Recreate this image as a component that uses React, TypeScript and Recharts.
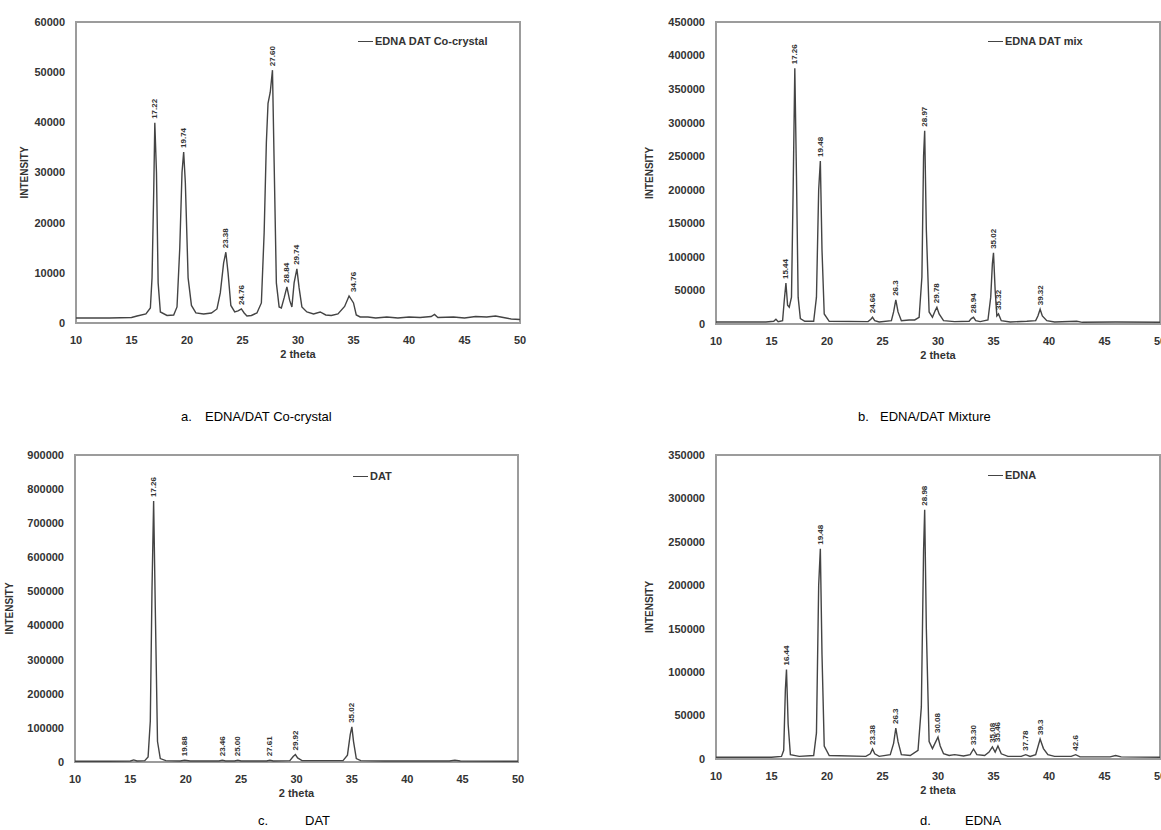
import React from 'react';
import { LineChart, Line, XAxis, YAxis, Legend, ReferenceArea, LabelList, Label } from 'recharts';

const FONT = '"Liberation Sans", Arial, sans-serif';

// shared x-axis ticks (2 theta)
const xTicks = [10, 15, 20, 25, 30, 35, 40, 45, 50];

// ---------- a. EDNA/DAT Co-crystal ----------
const coX = [10, 13, 15, 15.5, 16.3, 16.7, 16.85, 17.0, 17.1, 17.25, 17.4, 17.6, 18.2, 18.8, 19.1, 19.35, 19.55, 19.7, 19.85, 20.1, 20.4, 20.8, 21.5, 22.2, 22.7, 23.0, 23.3, 23.5, 23.7, 23.95, 24.3, 24.6, 24.9, 25.15, 25.4, 25.8, 26.3, 26.7, 26.95, 27.15, 27.3, 27.5, 27.7, 27.85, 28.05, 28.3, 28.5, 28.75, 29.0, 29.25, 29.45, 29.65, 29.9, 30.1, 30.35, 30.8, 31.4, 32.0, 32.5, 33.0, 33.6, 34.2, 34.6, 35.0, 35.25, 35.6, 36.3, 37.0, 38.0, 39.0, 40.0, 41.0, 42.0, 42.3, 42.6, 44.0, 45.0, 46.0, 47.0, 47.8, 48.5, 49.2, 50];
const coY = [1000, 1000, 1100, 1400, 1800, 3000, 9000, 26000, 39900, 30000, 8000, 2200, 1500, 1600, 3200, 15000, 30000, 34100, 28000, 9000, 3500, 2000, 1800, 2000, 2800, 6000, 12000, 14100, 10000, 3500, 2200, 2400, 2800, 2000, 1400, 1500, 2000, 4000, 18000, 36000, 43800, 46000, 50400, 32000, 8000, 3200, 3000, 5000, 7200, 4500, 3200, 8000, 10800, 7000, 3200, 2200, 1800, 2200, 1600, 1500, 1800, 3300, 5400, 4000, 1600, 1200, 1200, 1000, 1200, 1000, 1200, 1100, 1300, 1700, 1100, 1200, 1000, 1300, 1200, 1400, 1100, 800, 700];
const coPeakX = [17.1, 19.7, 23.5, 24.9, 27.7, 29.0, 29.9, 35.0];
const coPeakY = [39900, 34100, 14100, 2800, 50400, 7200, 10800, 5400];
const coPeakLabels = ['17.22', '19.74', '23.38', '24.76', '27.60', '28.84', '29.74', '34.76'];
const coYTicks = [0, 10000, 20000, 30000, 40000, 50000, 60000];

// ---------- b. EDNA/DAT Mixture ----------
const mixX = [10, 14.5, 15.2, 15.4, 15.6, 16.0, 16.15, 16.3, 16.45, 16.6, 16.8, 16.95, 17.1, 17.25, 17.4, 17.6, 18.0, 18.8, 19.05, 19.25, 19.4, 19.55, 19.75, 20.2, 23.7, 23.95, 24.1, 24.3, 24.7, 25.8, 26.0, 26.2, 26.4, 26.7, 27.4, 27.9, 28.3, 28.55, 28.7, 28.8, 28.95, 29.2, 29.5, 29.75, 29.9, 30.1, 30.5, 31.5, 32.8, 33.0, 33.2, 33.4, 33.8, 34.5, 34.75, 34.9, 35.0, 35.15, 35.3, 35.45, 35.7, 36.5, 38.0, 38.8, 39.0, 39.2, 39.4, 39.8, 40.5, 42.5, 43.0, 46.0, 50];
const mixY = [3000, 3000, 4000, 7000, 3500, 5000, 35000, 61000, 28000, 25000, 40000, 200000, 381000, 220000, 40000, 8000, 4000, 4000, 40000, 200000, 243000, 110000, 15000, 4000, 3500, 7000, 10000, 5000, 3000, 5000, 18000, 36000, 18000, 5000, 6000, 6000, 10000, 70000, 250000, 288000, 140000, 18000, 10000, 20000, 25000, 15000, 5000, 3500, 4000, 8000, 10000, 5000, 3500, 6000, 40000, 90000, 106000, 50000, 12000, 15000, 5000, 3000, 4000, 5000, 12000, 22000, 12000, 5000, 3000, 4000, 2500, 3000, 2500];
const mixPeakX = [16.3, 17.1, 19.4, 24.1, 26.2, 28.8, 29.9, 33.2, 35.0, 35.45, 39.2];
const mixPeakY = [61000, 381000, 243000, 10000, 36000, 288000, 25000, 10000, 106000, 15000, 22000];
const mixPeakLabels = ['15.44', '17.26', '19.48', '24.66', '26.3', '28.97', '29.78', '28.94', '35.02', '35.32', '39.32'];
const mixYTicks = [0, 50000, 100000, 150000, 200000, 250000, 300000, 350000, 400000, 450000];

// ---------- c. DAT ----------
const datX = [10, 13, 15, 15.3, 15.6, 16.3, 16.6, 16.8, 16.95, 17.1, 17.25, 17.45, 17.7, 18.2, 19.5, 19.9, 20.4, 23.0, 23.3, 23.6, 24.4, 24.7, 25.0, 27.3, 27.6, 27.9, 29.4, 29.7, 29.9, 30.1, 30.5, 34.2, 34.6, 34.85, 35.0, 35.15, 35.4, 35.8, 38.0, 43.8, 44.3, 44.8, 50];
const datY = [2000, 2000, 3000, 6000, 3000, 4000, 15000, 120000, 500000, 765000, 450000, 60000, 10000, 4000, 3000, 5000, 3000, 3000, 5000, 3000, 3000, 5000, 3000, 3000, 5000, 3000, 4000, 16000, 22000, 12000, 4000, 4000, 20000, 80000, 103000, 60000, 10000, 4000, 3000, 3000, 5000, 3000, 2000];
const datPeakX = [17.1, 19.9, 23.3, 24.7, 27.6, 29.9, 35.0];
const datPeakY = [765000, 5000, 5000, 5000, 5000, 22000, 103000];
const datPeakLabels = ['17.26', '19.88', '23.46', '25.00', '27.61', '29.92', '35.02'];
const datYTicks = [0, 100000, 200000, 300000, 400000, 500000, 600000, 700000, 800000, 900000];

// ---------- d. EDNA ----------
const ednaX = [10, 15, 15.9, 16.1, 16.25, 16.35, 16.5, 16.7, 17.5, 18.8, 19.05, 19.25, 19.4, 19.55, 19.75, 20.2, 23.5, 23.9, 24.1, 24.3, 24.7, 25.7, 26.0, 26.2, 26.4, 26.7, 27.5, 28.2, 28.5, 28.7, 28.8, 28.95, 29.2, 29.5, 29.8, 30.0, 30.2, 30.5, 31.0, 31.5, 32.3, 32.9, 33.2, 33.5, 34.2, 34.6, 34.9, 35.15, 35.4, 35.7, 36.3, 37.5, 37.9, 38.3, 38.8, 39.2, 39.5, 39.9, 40.5, 42.0, 42.4, 42.8, 45.5, 46.0, 46.5, 50];
const ednaY = [2000, 2000, 3000, 10000, 80000, 103000, 40000, 5000, 3000, 4000, 30000, 200000, 242000, 120000, 15000, 4000, 3000, 6000, 11500, 6000, 3000, 5000, 18000, 35700, 20000, 5000, 4000, 10000, 60000, 240000, 287000, 150000, 20000, 12000, 20000, 25300, 15000, 6000, 4000, 5000, 3500, 5000, 11500, 5000, 4000, 8000, 14000, 8000, 15000, 6000, 3000, 3000, 5000, 3000, 5000, 23000, 12000, 5000, 3000, 3000, 5000, 2500, 2500, 4000, 2500, 2000];
const ednaPeakX = [16.35, 19.4, 24.1, 26.2, 28.8, 30.0, 33.2, 34.9, 35.4, 37.9, 39.2, 42.4];
const ednaPeakY = [103000, 242000, 11500, 35700, 287000, 25300, 11500, 14000, 15000, 5000, 23000, 5000];
const ednaPeakLabels = ['16.44', '19.48', '23.38', '26.3', '28.98', '30.08', '33.30', '35.08', '35.46', '37.78', '39.3', '42.6'];
const ednaYTicks = [0, 50000, 100000, 150000, 200000, 250000, 300000, 350000];

type Pt = { x: number; y: number };
type Pk = { x: number; y: number; label: string };

const zipPts = (xs: number[], ys: number[]): Pt[] => xs.map((x, i) => ({ x, y: ys[i] }));
const zipPeaks = (xs: number[], ys: number[], ls: string[]): Pk[] =>
  xs.map((x, i) => ({ x, y: ys[i], label: ls[i] }));

const PeakLabel = (props: any) => {
  const vb = props.viewBox || {};
  const x = props.x ?? vb.x;
  const y = props.y ?? vb.y;
  if (x == null || y == null || props.value == null) return null;
  const ty = y - 4;
  return (
    <text
      x={x}
      y={ty}
      transform={`rotate(-90 ${x} ${ty})`}
      textAnchor="start"
      dominantBaseline="central"
      fontSize={8}
      fontWeight="bold"
      fill="#333"
      fontFamily={FONT}
    >
      {props.value}
    </text>
  );
};

type PanelProps = {
  left: number;
  top: number;
  width: number;
  height: number;
  margin: { top: number; right: number; left: number; bottom: number };
  yAxisWidth: number;
  pts: Pt[];
  peaks: Pk[];
  yMax: number;
  yTicks: number[];
  name: string;
  legendLeft: number;
  legendTop: number;
  yTitleX: number;
};

const Panel = (p: PanelProps) => {
  const tickStyle = { fontSize: 11, fontWeight: 'bold', fill: '#333', fontFamily: FONT } as any;
  return (
    <div style={{ position: 'absolute', left: p.left, top: p.top, width: p.width, height: p.height }}>
      <LineChart width={p.width} height={p.height} margin={p.margin}>
        <XAxis
          type="number"
          dataKey="x"
          domain={[10, 50]}
          ticks={xTicks}
          interval={0}
          allowDataOverflow
          tickLine={false}
          axisLine={false}
          tickMargin={7}
          height={40}
          tick={tickStyle}
        >
          <Label
            content={(lp: any) => {
              const vb = lp.viewBox;
              return (
                <text
                  x={vb.x + vb.width / 2}
                  y={vb.y + 31}
                  textAnchor="middle"
                  dominantBaseline="central"
                  fontSize={11}
                  fontWeight="bold"
                  fill="#333"
                  fontFamily={FONT}
                >
                  2 theta
                </text>
              );
            }}
          />
        </XAxis>
        <YAxis
          type="number"
          domain={[0, p.yMax]}
          ticks={p.yTicks}
          interval={0}
          tickLine={false}
          axisLine={false}
          tickMargin={5}
          width={p.yAxisWidth}
          tick={tickStyle}
        >
          <Label
            content={(lp: any) => {
              const vb = lp.viewBox;
              const cy = vb.y + vb.height / 2;
              return (
                <text
                  x={p.yTitleX}
                  y={cy}
                  transform={`rotate(-90 ${p.yTitleX} ${cy})`}
                  textAnchor="middle"
                  dominantBaseline="central"
                  fontSize={10}
                  fontWeight="bold"
                  fill="#333"
                  fontFamily={FONT}
                >
                  INTENSITY
                </text>
              );
            }}
          />
        </YAxis>
        <ReferenceArea
          x1={10}
          x2={50}
          y1={0}
          y2={p.yMax}
          fill="#ffffff"
          fillOpacity={0}
          stroke="#9c9c9c"
          strokeWidth={2}
          ifOverflow="visible"
        />
        <Legend
          layout="horizontal"
          verticalAlign="middle"
          align="center"
          wrapperStyle={{ left: p.legendLeft, top: p.legendTop, width: 'auto' }}
          content={() => (
            <div
              style={{
                display: 'flex',
                alignItems: 'center',
                fontFamily: FONT,
                fontSize: 11,
                fontWeight: 'bold',
                color: '#333',
                whiteSpace: 'nowrap',
              }}
            >
              <span style={{ display: 'inline-block', width: 15, borderTop: '1.5px solid #444', marginRight: 2 }} />
              {p.name}
            </div>
          )}
        />
        <Line
          type="linear"
          data={p.pts}
          dataKey="y"
          name={p.name}
          stroke="#444"
          strokeWidth={1.4}
          dot={false}
          activeDot={false}
          isAnimationActive={false}
        />
        <Line
          type="linear"
          data={p.peaks}
          dataKey="y"
          stroke="none"
          dot={false}
          activeDot={false}
          legendType="none"
          isAnimationActive={false}
        >
          <LabelList dataKey="label" content={PeakLabel} />
        </Line>
      </LineChart>
    </div>
  );
};

const captionStyle: React.CSSProperties = {
  position: 'absolute',
  fontFamily: FONT,
  fontSize: 13,
  color: '#000',
  whiteSpace: 'nowrap',
  lineHeight: '14px',
};

const Caption = ({ x1, x2, top, letter, text }: { x1: number; x2: number; top: number; letter: string; text: string }) => (
  <>
    <div style={{ ...captionStyle, left: x1, top }}>{letter}</div>
    <div style={{ ...captionStyle, left: x2, top }}>{text}</div>
  </>
);

export default function App() {
  return (
    <div style={{ position: 'absolute', left: 0, top: 0, width: 1161, height: 830, background: '#fff', overflow: 'hidden' }}>
      <Panel
        left={0}
        top={0}
        width={540}
        height={380}
        margin={{ top: 22, right: 20, left: 0, bottom: 17 }}
        yAxisWidth={76}
        pts={zipPts(coX, coY)}
        peaks={zipPeaks(coPeakX, coPeakY, coPeakLabels)}
        yMax={60000}
        yTicks={coYTicks}
        name="EDNA DAT Co-crystal"
        legendLeft={358}
        legendTop={35}
        yTitleX={24}
      />
      <Panel
        left={640}
        top={0}
        width={521}
        height={380}
        margin={{ top: 22, right: 1, left: 0, bottom: 16 }}
        yAxisWidth={76}
        pts={zipPts(mixX, mixY)}
        peaks={zipPeaks(mixPeakX, mixPeakY, mixPeakLabels)}
        yMax={450000}
        yTicks={mixYTicks}
        name="EDNA DAT mix"
        legendLeft={348}
        legendTop={35}
        yTitleX={9}
      />
      <Panel
        left={0}
        top={430}
        width={540}
        height={400}
        margin={{ top: 25, right: 22, left: 0, bottom: 28 }}
        yAxisWidth={75}
        pts={zipPts(datX, datY)}
        peaks={zipPeaks(datPeakX, datPeakY, datPeakLabels)}
        yMax={900000}
        yTicks={datYTicks}
        name="DAT"
        legendLeft={353}
        legendTop={40}
        yTitleX={9}
      />
      <Panel
        left={640}
        top={430}
        width={521}
        height={400}
        margin={{ top: 25, right: 1, left: 0, bottom: 31 }}
        yAxisWidth={76}
        pts={zipPts(ednaX, ednaY)}
        peaks={zipPeaks(ednaPeakX, ednaPeakY, ednaPeakLabels)}
        yMax={350000}
        yTicks={ednaYTicks}
        name="EDNA"
        legendLeft={348}
        legendTop={39}
        yTitleX={9}
      />
      <Caption x1={181} x2={205} top={410} letter="a." text="EDNA/DAT Co-crystal" />
      <Caption x1={858} x2={880} top={410} letter="b." text="EDNA/DAT Mixture" />
      <Caption x1={258} x2={305} top={814} letter="c." text="DAT" />
      <Caption x1={920} x2={965} top={814} letter="d." text="EDNA" />
    </div>
  );
}
